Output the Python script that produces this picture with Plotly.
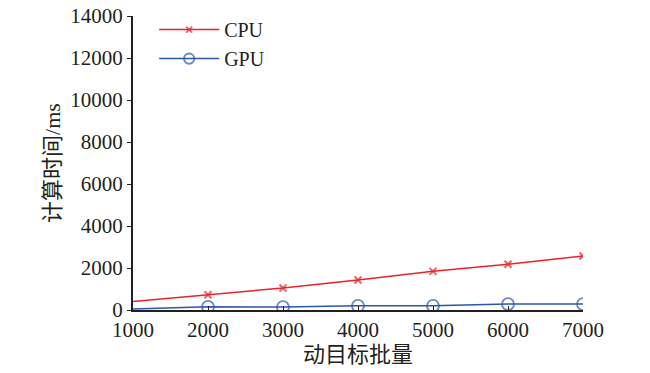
import plotly.graph_objects as go

batch = [1000, 2000, 3000, 4000, 5000, 6000, 7000]
cpu_ms = [400, 730, 1050, 1430, 1840, 2180, 2570]
gpu_ms = [50, 150, 140, 200, 200, 280, 280]
y_ticks = [0, 2000, 4000, 6000, 8000, 10000, 12000, 14000]
x_ticks = [1000, 2000, 3000, 4000, 5000, 6000, 7000]

fig = go.Figure()
fig.add_trace(go.Scatter(
    x=batch, y=cpu_ms, name="CPU", mode="lines+markers",
    line=dict(color="#e8232a", width=1.5),
    marker=dict(symbol="x-thin", size=[0] + [7] * (len(batch) - 1),
                line=dict(color="#e8232a", width=2), color="#e8232a"),
))
fig.add_trace(go.Scatter(
    x=batch, y=gpu_ms, name="GPU", mode="lines+markers",
    line=dict(color="#2a58a8", width=1.5),
    marker=dict(symbol="circle-open", size=[0] + [12] * (len(batch) - 1),
                line=dict(color="#2a58a8", width=1.8), color="#2a58a8"),
))

font_serif = "Liberation Serif, Times New Roman, serif"
title_font = "Liberation Serif, Noto Sans CJK SC, serif"
fig.update_layout(
    width=650, height=373,
    margin=dict(l=133, r=67, t=16, b=63, autoexpand=False),
    paper_bgcolor="white", plot_bgcolor="white",
    font=dict(family=font_serif, size=21, color="#231f20"),
    showlegend=True,
    legend=dict(x=0.047, y=1.02, xanchor="left", yanchor="top",
                bgcolor="rgba(0,0,0,0)", font=dict(size=20),
                itemwidth=60, tracegroupgap=0),
    xaxis=dict(
        range=[1000, 7000], tickvals=x_ticks, ticktext=[str(v) for v in x_ticks],
        showgrid=False, zeroline=False, showline=True, linecolor="#231f20", linewidth=2,
        ticks="inside", ticklen=4, tickcolor="#231f20", automargin=False,
        ticklabeloverflow="allow",
        title=dict(text="动目标批量", font=dict(family=title_font, size=22), standoff=2),
    ),
    yaxis=dict(
        range=[0, 14000], tickvals=y_ticks, ticktext=[str(v) for v in y_ticks],
        showgrid=False, zeroline=False, showline=True, linecolor="#231f20", linewidth=2,
        ticks="outside", ticklen=4, tickcolor="#231f20", automargin=False,
        ticklabeloverflow="allow",
        title=dict(text="计算时间/ms", font=dict(family=title_font, size=22), standoff=4),
    ),
)
fig.write_html("out.html", config={"displayModeBar": False},
               post_script="document.body.style.margin='0';")
